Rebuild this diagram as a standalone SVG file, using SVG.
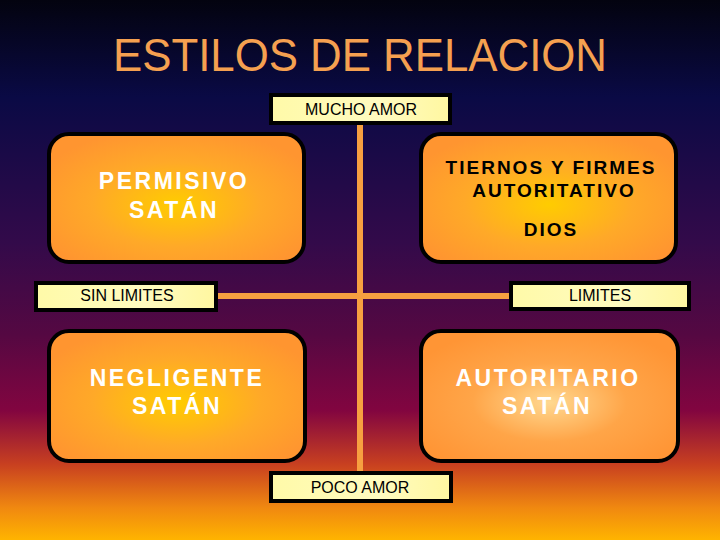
<svg xmlns="http://www.w3.org/2000/svg" width="720" height="540" viewBox="0 0 720 540">
<defs>
<linearGradient id="bg" x1="0" y1="0" x2="0" y2="1">
<stop offset="0" stop-color="#03030f"/>
<stop offset="0.18" stop-color="#0a0a45"/>
<stop offset="0.45" stop-color="#330a4a"/>
<stop offset="0.62" stop-color="#550842"/>
<stop offset="0.76" stop-color="#820540"/>
<stop offset="0.86" stop-color="#c84020"/>
<stop offset="0.94" stop-color="#f08810"/>
<stop offset="1" stop-color="#ffb400"/>
</linearGradient>
<radialGradient id="boxg" cx="0.5" cy="0.55" r="0.6">
<stop offset="0" stop-color="#ffcc00"/>
<stop offset="0.55" stop-color="#ffa928"/>
<stop offset="1" stop-color="#ff9530"/>
</radialGradient>
<radialGradient id="boxg2" cx="0.5" cy="0.55" r="0.6">
<stop offset="0" stop-color="#ffd890"/>
<stop offset="0.5" stop-color="#ffa548"/>
<stop offset="1" stop-color="#ff9535"/>
</radialGradient>
<linearGradient id="lab" x1="0" y1="0" x2="1" y2="0">
<stop offset="0" stop-color="#fffaa8"/>
<stop offset="0.6" stop-color="#fffbc0"/>
<stop offset="1" stop-color="#fff7a0"/>
</linearGradient>
</defs>
<style>
.box{stroke:#000;stroke-width:4}
.lab{fill:url(#lab);stroke:#000;stroke-width:4}
.lt{font-family:"Liberation Sans",Arial,sans-serif;font-size:16px;fill:#000;text-anchor:middle}
.wt{font-family:"Liberation Sans",Arial,sans-serif;font-size:23px;font-weight:bold;fill:#fff;text-anchor:middle;letter-spacing:2.5px}
.bt{font-family:"Liberation Sans",Arial,sans-serif;font-size:19px;font-weight:bold;fill:#000;text-anchor:middle;letter-spacing:2px}
.line{stroke:#f7a040;stroke-width:6;fill:none}
</style>
<rect x="0" y="0" width="720" height="540" fill="url(#bg)"/>
<text x="113" y="71" font-family="'Liberation Sans',Arial,sans-serif" font-size="46" fill="#f5a050" textLength="494" lengthAdjust="spacingAndGlyphs">ESTILOS DE RELACION</text>
<g id="connectors">
<line class="line" x1="360" y1="124" x2="360" y2="473"/>
<line class="line" x1="217" y1="296" x2="510" y2="296"/>
</g>
<g id="permisivo">
<rect class="box" x="49" y="134" width="255" height="128" rx="20" fill="url(#boxg)"/>
<text class="wt" x="174" y="189">PERMISIVO</text>
<text class="wt" x="174" y="218">SATÁN</text>
</g>
<g id="tiernos">
<rect class="box" x="421" y="134" width="255" height="128" rx="20" fill="url(#boxg)"/>
<text class="bt" x="551" y="174">TIERNOS Y FIRMES</text>
<text class="bt" x="554" y="197">AUTORITATIVO</text>
<text class="bt" x="551" y="236">DIOS</text>
</g>
<g id="negligente">
<rect class="box" x="49" y="331" width="256" height="130" rx="20" fill="url(#boxg)"/>
<text class="wt" x="177" y="386">NEGLIGENTE</text>
<text class="wt" x="177" y="414">SATÁN</text>
</g>
<g id="autoritario">
<rect class="box" x="421" y="331" width="257" height="130" rx="20" fill="url(#boxg2)"/>
<text class="wt" x="548" y="386">AUTORITARIO</text>
<text class="wt" x="547" y="414">SATÁN</text>
</g>
<g id="mucho-amor">
<rect class="lab" x="271" y="95" width="179" height="28"/>
<text class="lt" x="361" y="115">MUCHO AMOR</text>
</g>
<g id="sin-limites">
<rect class="lab" x="36" y="283" width="180" height="27"/>
<text class="lt" x="127" y="301">SIN LIMITES</text>
</g>
<g id="limites">
<rect class="lab" x="511" y="283" width="178" height="26"/>
<text class="lt" x="600" y="301">LIMITES</text>
</g>
<g id="poco-amor">
<rect class="lab" x="271" y="473" width="180" height="28"/>
<text class="lt" x="360" y="493">POCO AMOR</text>
</g>
</svg>
